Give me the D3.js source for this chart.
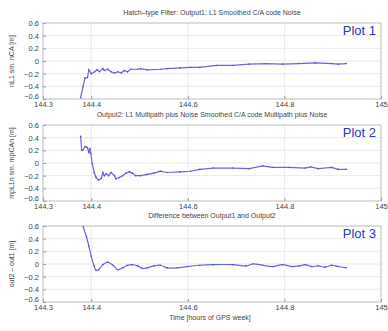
<!DOCTYPE html>
<html>
<head>
<meta charset="utf-8">
<script src="https://cdn.jsdelivr.net/npm/d3@7"></script>
<style>
  body { margin: 0; background: #fff; }
  text { font-family: "Liberation Sans", Arial, sans-serif; }
</style>
</head>
<body>
<div id="chart"></div>
<script>
// tick labels
var xTicks = [144.3, 144.4, 144.6, 144.8, 145];
var yTicks = [-0.6, -0.4, -0.2, 0, 0.2, 0.4, 0.6];

// Plot 1: L1 smoothed C/A code noise
var t1 = [144.378, 144.383, 144.387, 144.392, 144.395, 144.400, 144.407, 144.412, 144.417, 144.424,
          144.427, 144.434, 144.441, 144.448, 144.455, 144.462, 144.468, 144.475, 144.482, 144.496,
          144.502, 144.516, 144.543, 144.557, 144.584, 144.605, 144.625, 144.659, 144.693, 144.727,
          144.762, 144.796, 144.830, 144.864, 144.898, 144.911, 144.928];
var v1 = [-0.58, -0.40, -0.27, -0.26, -0.14, -0.20, -0.17, -0.14, -0.17, -0.12,
          -0.15, -0.13, -0.17, -0.19, -0.17, -0.19, -0.15, -0.17, -0.13, -0.13,
          -0.12, -0.14, -0.13, -0.12, -0.11, -0.10, -0.10, -0.07, -0.07, -0.05,
          -0.04, -0.05, -0.04, -0.03, -0.04, -0.05, -0.04];

// Plot 2: L1 multipath plus noise smoothed C/A code multipath plus noise
var t2 = [144.378, 144.380, 144.383, 144.387, 144.390, 144.392, 144.395, 144.397, 144.399, 144.402,
          144.406, 144.410, 144.415, 144.421, 144.424, 144.427, 144.431, 144.436, 144.441, 144.448,
          144.451, 144.458, 144.465, 144.472, 144.479, 144.485, 144.492, 144.502, 144.516, 144.530,
          144.543, 144.557, 144.584, 144.605, 144.625, 144.652, 144.693, 144.727, 144.755, 144.775,
          144.809, 144.843, 144.854, 144.870, 144.898, 144.911, 144.928];
var v2 = [0.42, 0.20, 0.21, 0.26, 0.25, 0.24, 0.17, 0.23, 0.15, -0.01,
          -0.15, -0.23, -0.27, -0.24, -0.15, -0.20, -0.17, -0.20, -0.15, -0.20,
          -0.25, -0.23, -0.20, -0.16, -0.14, -0.16, -0.20, -0.20, -0.18, -0.16,
          -0.13, -0.15, -0.14, -0.13, -0.10, -0.08, -0.08, -0.09, -0.045, -0.07,
          -0.07, -0.08, -0.06, -0.09, -0.07, -0.10, -0.10];

// Plot 3: difference between output1 and output2
var t3 = [144.378, 144.383, 144.390, 144.395, 144.400, 144.406, 144.410, 144.415, 144.424, 144.434,
          144.445, 144.455, 144.465, 144.475, 144.485, 144.496, 144.506, 144.516, 144.530, 144.543,
          144.557, 144.578, 144.598, 144.625, 144.652, 144.693, 144.721, 144.734, 144.755, 144.775,
          144.796, 144.816, 144.830, 144.843, 144.857, 144.870, 144.884, 144.898, 144.911, 144.928];
var v3 = [0.80, 0.60, 0.43, 0.28, 0.12, -0.03, -0.10, -0.09, -0.01, 0.03,
          -0.02, -0.09, -0.06, -0.02, -0.01, -0.03, -0.07, -0.06, -0.03, -0.02,
          -0.06, -0.06, -0.04, -0.02, -0.01, -0.01, -0.03, 0.00, -0.02, -0.04,
          -0.01, -0.04, -0.03, -0.01, -0.04, -0.03, -0.05, -0.02, -0.04, -0.06];

var plots = [
  {title: "Hatch\u2013type Filter: Output1: L1 Smoothed C/A code Noise", ylab: "nL1 sm. nCA [m]", tag: "Plot 1", t: t1, v: v1, top: 23, curve: d3.curveLinear},
  {title: "Output2: L1 Multipath plus Noise Smoothed C/A code Multipath plus Noise", ylab: "mpL1n sm. mpCAn [m]", tag: "Plot 2", t: t2, v: v2, top: 125, curve: d3.curveLinear},
  {title: "Difference between Output1 and Output2", ylab: "out2 \u2013 out1 [m]", tag: "Plot 3", t: t3, v: v3, top: 226, curve: d3.curveCatmullRom}
];

var W = 388, H = 331;
var left = 43, right = 381, ph = 76;

var svg = d3.select("#chart").append("svg")
  .attr("width", W).attr("height", H);
svg.append("rect").attr("width", W).attr("height", H).attr("fill", "#fff");

var x = d3.scaleLinear().domain([144.3, 145]).range([left, right]);

plots.forEach(function(p, i) {
  var y = d3.scaleLinear().domain([-0.6, 0.6]).range([p.top + ph, p.top]);
  var g = svg.append("g");

  // grid
  g.selectAll(".gx").data(xTicks.slice(1, -1)).enter().append("line")
    .attr("x1", d => x(d)).attr("x2", d => x(d))
    .attr("y1", p.top).attr("y2", p.top + ph)
    .attr("stroke", "#e4e4e4").attr("stroke-width", 0.8);
  g.selectAll(".gy").data(yTicks.slice(1, -1)).enter().append("line")
    .attr("x1", left).attr("x2", right)
    .attr("y1", d => y(d)).attr("y2", d => y(d))
    .attr("stroke", "#e4e4e4").attr("stroke-width", 0.8);

  // axes
  g.append("g").attr("transform", "translate(0," + (p.top + ph) + ")")
    .call(d3.axisBottom(x).tickValues(xTicks).tickSize(-3).tickPadding(2.5).tickFormat(d3.format("")))
    .call(a => a.select(".domain").remove())
    .call(a => a.selectAll("line").attr("stroke", "#999"))
    .call(a => a.selectAll("text").attr("fill", "#444").style("font-size", "7.5px"));
  g.append("g").attr("transform", "translate(" + left + ",0)")
    .call(d3.axisLeft(y).tickValues(yTicks).tickSize(-3).tickPadding(4).tickFormat(d => d3.format("")(+d.toFixed(1)).replace("-", "\u2212")))
    .call(a => a.select(".domain").remove())
    .call(a => a.selectAll("line").attr("stroke", "#999"))
    .call(a => a.selectAll("text").attr("fill", "#444").style("font-size", "7.5px"))
    .call(a => a.selectAll(".tick").filter(d => d === -0.6).select("text").attr("dy", "-0.1em"));

  // box
  g.append("rect").attr("x", left).attr("y", p.top).attr("width", right - left).attr("height", ph)
    .attr("fill", "none").attr("stroke", "#aaa").attr("stroke-width", 0.8);

  // clip + line
  svg.append("clipPath").attr("id", "clip" + i).append("rect")
    .attr("x", left).attr("y", p.top).attr("width", right - left).attr("height", ph);
  var data = p.t.map((t, k) => [t, p.v[k]]);
  var line = d3.line().x(d => x(d[0])).y(d => y(d[1])).curve(p.curve);
  g.append("path").datum(data)
    .attr("clip-path", "url(#clip" + i + ")")
    .attr("d", line)
    .attr("fill", "none").attr("stroke", "#6666e2").attr("stroke-width", 1.2);
  g.selectAll(".pt").data(data).enter().append("circle")
    .attr("clip-path", "url(#clip" + i + ")")
    .attr("cx", d => x(d[0])).attr("cy", d => y(d[1])).attr("r", 0.8)
    .attr("fill", "#5050d4");

  // title
  g.append("text").attr("x", (left + right) / 2).attr("y", p.top - 8)
    .attr("text-anchor", "middle").attr("fill", "#444").style("font-size", "7px")
    .text(p.title);

  // y label
  g.append("text").attr("transform", "translate(14," + (p.top + ph / 2) + ") rotate(-90)")
    .attr("text-anchor", "middle").attr("fill", "#444").style("font-size", "7px")
    .text(p.ylab);

  // plot tag
  g.append("text").attr("x", 376).attr("y", p.top + 12)
    .attr("text-anchor", "end").attr("fill", "#2338c8").style("font-size", "13px")
    .text(p.tag);
});

svg.append("text").attr("x", 210).attr("y", 320)
  .attr("text-anchor", "middle").attr("fill", "#444").style("font-size", "7px")
  .text("Time [hours of GPS week]");
</script>
</body>
</html>
